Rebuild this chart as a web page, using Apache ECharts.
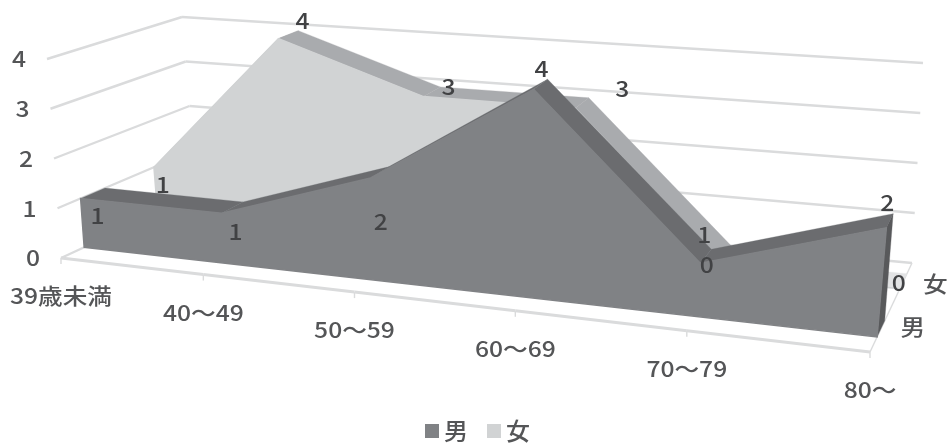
<!DOCTYPE html>
<html>
<head>
<meta charset="utf-8">
<style>html,body{margin:0;padding:0;background:#fff}#c{width:951px;height:444px}</style>
<script src="https://cdn.jsdelivr.net/npm/echarts@6/dist/echarts.min.js"></script>
</head>
<body>
<div id="c"></div>
<script>
// Chart values
const categories = ['39歳未満', '40～49', '50～59', '60～69', '70～79', '80～'];
const maleValues = [1, 1, 2, 4, 1, 2];
const femaleValues = [1, 4, 3, 3, 0, 0];
const valueTicks = [0, 1, 2, 3, 4];
const seriesNames = ['男', '女'];

// Colours
const TEXT = '#545557';
const LABEL = '#414244';
const GRID = '#dadbdc';
const MALE = { front: '#808285', top: '#6b6c6f', side: '#58595b', flat: '#6b6c6f' };
const FEMALE = { front: '#d1d3d4', top: '#a9abae', side: '#a9abae', flat: '#e2e3e4' };
const FONT = '"Noto Sans CJK JP","Noto Sans",sans-serif';

// Perspective box: pixel corners of the plot volume, named by
// front/back, left/right, floor/ceiling.
const BOX = {
  fl0: [61, 258], fr0: [870, 352], bl0: [197, 195], br0: [912, 263],
  fl1: [47, 59], fr1: [890, 130], bl1: [182, 17], br1: [923, 63]
};
const RIGHT_WEIGHT = 0.854;     // foreshortening along the category axis
const MALE_DEPTH = [0.17, 0.35];
const FEMALE_DEPTH = [0.71, 0.88];

// Data label nudges relative to the front top edge of each ribbon
const maleLabelShift = [[17, 17], [14, 18], [10, 44], [8, -21], [4, -29], [1, -25]];
const femaleLabelShift = [[9, 17], [24, -18], [25, -10], [47, -20], [-25, -7], [-1, -6]];

const mix = (a, b, t) => [a[0] + (b[0] - a[0]) * t, a[1] + (b[1] - a[1]) * t];

// x, y in 0..1 across the axes, z in 0..1 from front to back
function project(x, y, z) {
  const t = x * RIGHT_WEIGHT / ((1 - x) + x * RIGHT_WEIGHT);
  const floor = mix(mix(BOX.fl0, BOX.fr0, t), mix(BOX.bl0, BOX.br0, t), z);
  const ceil = mix(mix(BOX.fl1, BOX.fr1, t), mix(BOX.bl1, BOX.br1, t), z);
  return mix(floor, ceil, y);
}

// Turns a category index and value into unit axes through the cartesian scales
function unit(api, params, i, v) {
  const c = api.coord([i, v]);
  const r = params.coordSys;
  return [(c[0] - r.x) / r.width, (r.y + r.height - c[1]) / r.height];
}

function poly(points, color, z2, strokeWidth) {
  return {
    type: 'polygon', z2, silent: true,
    shape: { points },
    style: { fill: color, stroke: color, lineWidth: strokeWidth }
  };
}
function line(a, b, width) {
  return {
    type: 'line', silent: true,
    shape: { x1: a[0], y1: a[1], x2: b[0], y2: b[1] },
    style: { stroke: GRID, lineWidth: width, fill: null }
  };
}
function text(pos, str, color) {
  return {
    type: 'text', silent: true, x: pos[0], y: pos[1], scaleX: 1.12,
    style: {
      text: str, fill: color, font: '500 22px ' + FONT,
      align: 'center', verticalAlign: 'middle'
    }
  };
}

// One ribbon of the 3D area: top band per segment, end cap, and a single front face
function ribbon(values, depth, colors) {
  return function (params, api) {
    const i = api.value(0);
    const children = [];
    const a = unit(api, params, i, api.value(1));
    if (i < values.length - 1) {
      const b = unit(api, params, i + 1, values[i + 1]);
      const flat = values[i] === 0 && values[i + 1] === 0;
      children.push(poly([
        project(a[0], a[1], depth[0]), project(b[0], b[1], depth[0]),
        project(b[0], b[1], depth[1]), project(a[0], a[1], depth[1])
      ], flat ? colors.flat : colors.top, 1, 0.3));
    } else if (values[i] > 0) {
      children.push(poly([
        project(a[0], 0, depth[0]), project(a[0], a[1], depth[0]),
        project(a[0], a[1], depth[1]), project(a[0], 0, depth[1])
      ], colors.side, 2, 0.3));
    }
    if (i === 0) {
      const tops = values.map((v, j) => unit(api, params, j, v));
      const outline = [project(tops[0][0], 0, depth[0])]
        .concat(tops.map(u => project(u[0], u[1], depth[0])))
        .concat([project(tops[tops.length - 1][0], 0, depth[0])]);
      children.push(poly(outline, colors.front, 3, 1.4));
    }
    return { type: 'group', children };
  };
}

function valueLabels(depth, shifts) {
  return function (params, api) {
    const i = api.value(0), v = api.value(1);
    const u = unit(api, params, i, v);
    const p = project(u[0], u[1], depth);
    return text([p[0] + shifts[i][0], p[1] + shifts[i][1]], String(v), LABEL);
  };
}

const indexed = arr => arr.map((v, i) => [i, v]);

const option = {
  animation: false,
  backgroundColor: '#fff',
  grid: { left: 0, right: 0, top: 0, bottom: 0 },
  xAxis: { type: 'category', data: categories, boundaryGap: false, show: false },
  yAxis: { type: 'value', min: 0, max: 4, interval: 1, show: false },
  legend: {
    left: 420, top: 414, itemWidth: 14, itemHeight: 14, itemGap: 19,
    icon: 'rect', selectedMode: false,
    textStyle: { color: TEXT, fontSize: 24, fontWeight: 500, fontFamily: FONT },
    data: [
      { name: seriesNames[0], itemStyle: { color: MALE.front } },
      { name: seriesNames[1], itemStyle: { color: FEMALE.front } }
    ]
  },
  series: [
    // Walls: horizontal gridlines and value axis labels
    {
      type: 'custom', z: 1, silent: true, clip: false,
      data: valueTicks.map(v => [0, v]),
      renderItem(params, api) {
        const v = api.value(1);
        const u = unit(api, params, 0, v);
        const front = project(0, u[1], 0);
        const corner = project(0, u[1], 1);
        const end = project(1, u[1], 1);
        return {
          type: 'group', children: [
            line(front, corner, 2.4), line(corner, end, 2.4),
            text([front[0] - 28, front[1]], String(v), TEXT)
          ]
        };
      }
    },
    // Floor: front edge, category ticks and labels
    {
      type: 'custom', z: 1, silent: true, clip: false,
      data: categories.map((c, i) => [i, 0]),
      renderItem(params, api) {
        const i = api.value(0);
        const u = unit(api, params, i, 0);
        const p = project(u[0], 0, 0);
        const children = [
          line(p, [p[0], p[1] + 6], 1.4),
          text([p[0], p[1] + 38], categories[i], TEXT)
        ];
        if (i < categories.length - 1) {
          const n = unit(api, params, i + 1, 0);
          children.push(line(p, project(n[0], 0, 0), 3));
        } else {
          children.push(line(p, project(1, 0, 1), 1.4));
        }
        return { type: 'group', children };
      }
    },
    // Depth axis series names
    {
      type: 'custom', z: 1, silent: true, clip: false,
      data: seriesNames.map((n, i) => [5, 0, i]),
      renderItem(params, api) {
        const k = api.value(2);
        const d = k === 0 ? (MALE_DEPTH[0] + MALE_DEPTH[1]) / 2 : (FEMALE_DEPTH[0] + FEMALE_DEPTH[1]) / 2;
        const p = project(1, 0, d);
        return text([p[0] + 32, p[1] + (k === 0 ? -2 : 2)], seriesNames[k], TEXT);
      }
    },
    { name: seriesNames[1], type: 'custom', z: 2, silent: true, clip: false, itemStyle: { color: FEMALE.front },
      data: indexed(femaleValues), renderItem: ribbon(femaleValues, FEMALE_DEPTH, FEMALE) },
    { name: seriesNames[0], type: 'custom', z: 3, silent: true, clip: false, itemStyle: { color: MALE.front },
      data: indexed(maleValues), renderItem: ribbon(maleValues, MALE_DEPTH, MALE) },
    { type: 'custom', z: 4, silent: true, clip: false, data: indexed(femaleValues),
      renderItem: valueLabels(FEMALE_DEPTH[0], femaleLabelShift) },
    { type: 'custom', z: 4, silent: true, clip: false, data: indexed(maleValues),
      renderItem: valueLabels(MALE_DEPTH[0], maleLabelShift) }
  ]
};

echarts.init(document.getElementById('c'), null, { renderer: 'canvas' }).setOption(option);
</script>
</body>
</html>
